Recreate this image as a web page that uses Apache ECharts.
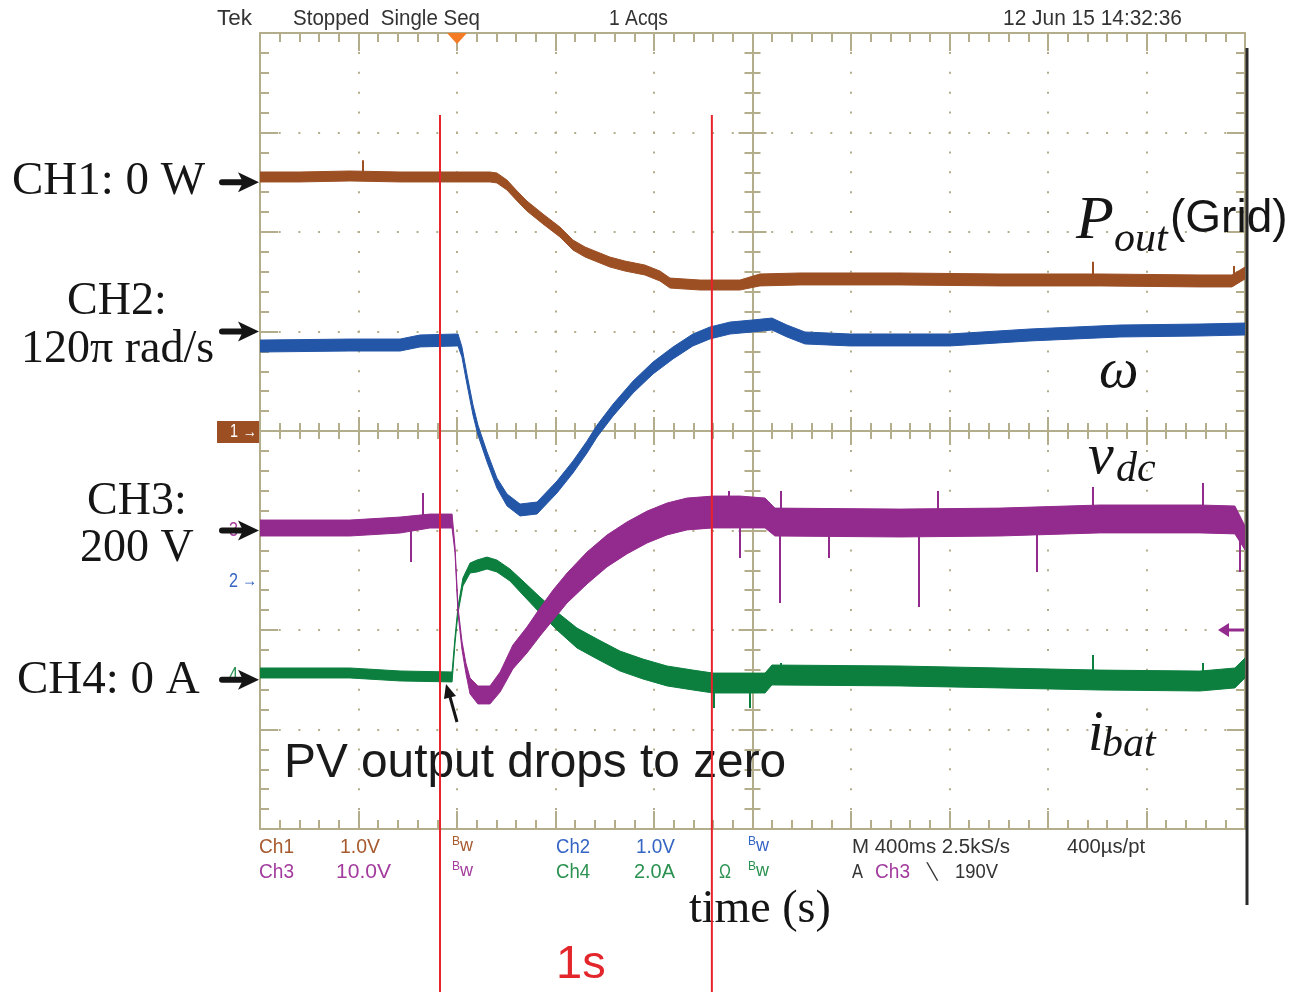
<!DOCTYPE html>
<html>
<head>
<meta charset="utf-8">
<title>PV output drops to zero</title>
<script src="https://cdn.jsdelivr.net/npm/echarts@6/dist/echarts.min.js"></script>
<style>
  html, body { margin: 0; padding: 0; background: #fff; }
  #chart { width: 1291px; height: 992px; }
</style>
</head>
<body>
<div id="chart"></div>
<script>
// scope traces
// [time in s (0 = screen centre, 400 ms/div), level in divisions, noise half-width in divisions]
const pOutTrace = [
  [-2.000, 2.553, 0.05], [-1.838, 2.553, 0.05], [-1.635, 2.563, 0.05], [-1.431, 2.553, 0.05],
  [-1.228, 2.553, 0.05], [-1.066, 2.553, 0.05], [-1.038, 2.543, 0.05], [-0.997, 2.472, 0.05],
  [-0.956, 2.362, 0.05], [-0.916, 2.261, 0.05], [-0.851, 2.131, 0.05], [-0.782, 2.000, 0.05],
  [-0.729, 1.869, 0.05], [-0.680, 1.799, 0.05], [-0.640, 1.759, 0.05], [-0.579, 1.698, 0.05],
  [-0.518, 1.658, 0.05], [-0.437, 1.618, 0.05], [-0.376, 1.558, 0.05], [-0.335, 1.487, 0.05],
  [-0.213, 1.467, 0.05], [-0.051, 1.467, 0.05], [0.030, 1.518, 0.06], [0.193, 1.528, 0.06],
  [0.599, 1.528, 0.06], [1.005, 1.518, 0.06], [1.411, 1.518, 0.06], [1.817, 1.508, 0.06],
  [1.947, 1.508, 0.06], [2.000, 1.588, 0.06]
];
const omegaTrace = [
  [-2.000, 0.854, 0.06], [-1.635, 0.864, 0.06], [-1.431, 0.864, 0.06], [-1.350, 0.905, 0.06],
  [-1.196, 0.915, 0.06], [-1.180, 0.794, 0.05], [-1.159, 0.513, 0.05], [-1.135, 0.211, 0.05],
  [-1.115, 0.010, 0.05], [-1.078, -0.261, 0.05], [-1.038, -0.523, 0.05], [-0.997, -0.693, 0.06],
  [-0.944, -0.794, 0.06], [-0.875, -0.774, 0.06], [-0.794, -0.563, 0.06], [-0.729, -0.362, 0.06],
  [-0.672, -0.161, 0.06], [-0.631, 0.000, 0.06], [-0.566, 0.211, 0.06], [-0.485, 0.442, 0.06],
  [-0.404, 0.633, 0.06], [-0.323, 0.784, 0.06], [-0.242, 0.915, 0.06], [-0.173, 0.985, 0.06],
  [-0.091, 1.035, 0.06], [-0.002, 1.055, 0.06], [0.079, 1.075, 0.06], [0.140, 1.005, 0.06],
  [0.213, 0.935, 0.06], [0.396, 0.915, 0.06], [0.802, 0.915, 0.06], [1.127, 0.965, 0.06],
  [1.492, 1.005, 0.06], [1.817, 1.015, 0.06], [2.000, 1.025, 0.06]
];
const vdcTrace = [
  [-2.000, -0.975, 0.08], [-1.635, -0.975, 0.08], [-1.431, -0.945, 0.08], [-1.310, -0.905, 0.07],
  [-1.220, -0.905, 0.07], [-1.208, -1.196, 0.03], [-1.196, -1.799, 0.03], [-1.180, -2.151, 0.04],
  [-1.164, -2.382, 0.05], [-1.147, -2.563, 0.08], [-1.115, -2.653, 0.09], [-1.066, -2.653, 0.09],
  [-1.025, -2.523, 0.10], [-0.973, -2.271, 0.12], [-0.916, -2.101, 0.13], [-0.863, -1.920, 0.14],
  [-0.810, -1.749, 0.15], [-0.753, -1.578, 0.15], [-0.672, -1.377, 0.16], [-0.591, -1.206, 0.16],
  [-0.510, -1.075, 0.16], [-0.428, -0.965, 0.16], [-0.347, -0.884, 0.16], [-0.266, -0.834, 0.16],
  [-0.160, -0.814, 0.16], [-0.051, -0.814, 0.16], [0.051, -0.824, 0.15], [0.091, -0.915, 0.14],
  [0.599, -0.925, 0.14], [1.005, -0.915, 0.14], [1.411, -0.884, 0.14], [1.817, -0.884, 0.14],
  [1.959, -0.894, 0.14], [2.000, -1.075, 0.12]
];
const ibatTrace = [
  [-2.000, -2.432, 0.05], [-1.635, -2.432, 0.05], [-1.431, -2.462, 0.05], [-1.220, -2.472, 0.05],
  [-1.208, -2.101, 0.03], [-1.196, -1.799, 0.03], [-1.176, -1.518, 0.04], [-1.147, -1.377, 0.05],
  [-1.119, -1.357, 0.06], [-1.078, -1.327, 0.06], [-1.038, -1.357, 0.06], [-0.985, -1.447, 0.06],
  [-0.932, -1.578, 0.07], [-0.863, -1.749, 0.08], [-0.794, -1.910, 0.09], [-0.713, -2.080, 0.10],
  [-0.631, -2.191, 0.10], [-0.538, -2.312, 0.10], [-0.445, -2.392, 0.10], [-0.347, -2.462, 0.10],
  [-0.242, -2.503, 0.10], [-0.160, -2.533, 0.10], [0.051, -2.533, 0.10], [0.079, -2.452, 0.10],
  [0.599, -2.462, 0.10], [1.005, -2.482, 0.10], [1.411, -2.503, 0.10], [1.817, -2.513, 0.10],
  [1.959, -2.482, 0.10], [2.000, -2.382, 0.10]
];
// isolated glitches: [time, from level, to level]
const pOutSpikes = [[-1.582, 2.56, 2.72], [1.383, 1.52, 1.70], [1.955, 1.55, 1.658]];
const vdcSpikes = [
  [-1.387, -0.95, -1.317], [-1.338, -0.90, -0.623], [-0.051, -0.85, -1.276], [0.112, -0.95, -1.729],
  [0.676, -0.95, -1.769], [1.155, -0.95, -1.417], [1.980, -1.00, -1.417], [0.311, -1.00, -1.276],
  [-0.095, -0.75, -0.603], [0.116, -0.80, -0.603], [0.753, -0.80, -0.603], [1.383, -0.78, -0.563],
  [1.830, -0.78, -0.523]
];
const ibatSpikes = [
  [1.383, -2.45, -2.251], [1.830, -2.45, -2.332], [0.116, -2.40, -2.332],
  [-0.010, -2.60, -2.784], [-0.156, -2.60, -2.784]
];

// channel ground markers (div) and other screen positions
const chRefLevels = [2.5, 1.0, -1.0, -2.5];
const trigTime = -1.2;
const redLineTimes = [-1.269, -0.165];

const cBrown = '#9d4f24';
const cBlue = '#2456a8';
const cPurple = '#932a8d';
const cGreen = '#0c7f3f';
const gridColor = '#b3ad8c';
const tickLine = { color: gridColor, width: 2 };

const chart = echarts.init(document.getElementById('chart'));

function xAxisDef(position, onZero, inside, len, minorLen, split) {
  return {
    type: 'value', min: -2, max: 2, interval: 0.4, position: position,
    axisLine: onZero ? { onZero: true, onZeroAxisIndex: 0, lineStyle: tickLine } : { onZero: false, lineStyle: tickLine },
    axisTick: { show: true, inside: inside, length: len, lineStyle: tickLine },
    minorTick: { show: true, splitNumber: 5, length: minorLen, lineStyle: tickLine },
    axisLabel: { show: false },
    splitLine: { show: split, lineStyle: { color: gridColor, width: 2, type: [2, 17.9], dashOffset: 1 } }
  };
}
function yAxisDef(position, onZero, inside, len, minorLen, split) {
  return {
    type: 'value', min: -4, max: 4, interval: 1, position: position,
    axisLine: onZero ? { onZero: true, onZeroAxisIndex: 0, lineStyle: tickLine } : { onZero: false, lineStyle: tickLine },
    axisTick: { show: true, inside: inside, length: len, lineStyle: tickLine },
    minorTick: { show: true, splitNumber: 5, length: minorLen, lineStyle: tickLine },
    axisLabel: { show: false },
    splitLine: { show: split, lineStyle: { color: gridColor, width: 2, type: [2, 17.7], dashOffset: 1 } }
  };
}

// a noisy trace drawn as one filled band between level-noise and level+noise
function bandSeries(id, trace, color) {
  return {
    type: 'custom', name: id, xAxisIndex: 0, yAxisIndex: 0,
    silent: true, animation: false, z: 5, clip: true,
    data: trace,
    renderItem: function (params, api) {
      if (params.dataIndex !== 0) return;
      const upper = trace.map(p => api.coord([p[0], p[1] + p[2]]));
      const lower = trace.map(p => api.coord([p[0], p[1] - p[2]])).reverse();
      return {
        type: 'polygon',
        shape: { points: upper.concat(lower) },
        style: { fill: color, stroke: color, lineWidth: 1 }
      };
    }
  };
}
function spikeSeries(spikes, color) {
  return {
    type: 'lines', coordinateSystem: 'cartesian2d', xAxisIndex: 0, yAxisIndex: 0,
    polyline: false, silent: true, animation: false, z: 5,
    lineStyle: { color: color, width: 2, opacity: 1 },
    data: spikes.map(s => ({ coords: [[s[0], s[1]], [s[0], s[2]]] }))
  };
}

chart.setOption({
  animation: false,
  backgroundColor: '#ffffff',
  grid: { left: 260, top: 33, width: 985, height: 796, containLabel: false },
  xAxis: [
    xAxisDef('bottom', false, true, 18, 9, true),
    xAxisDef('top', false, true, 18, 9, false),
    xAxisDef('bottom', true, true, 14, 8, false),
    xAxisDef('bottom', true, false, 14, 8, false)
  ],
  yAxis: [
    yAxisDef('left', false, true, 18, 9, true),
    yAxisDef('right', false, true, 18, 9, false),
    yAxisDef('left', true, true, 14, 8, false),
    yAxisDef('left', true, false, 14, 8, false)
  ],
  series: [
    bandSeries('Pout', pOutTrace, cBrown),
    bandSeries('omega', omegaTrace, cBlue),
    bandSeries('ibat', ibatTrace, cGreen),
    bandSeries('vdc', vdcTrace, cPurple),
    spikeSeries(pOutSpikes, cBrown),
    spikeSeries(vdcSpikes, cPurple),
    spikeSeries(ibatSpikes, cGreen)
  ]
});

// ---- screen annotations
const px = (t, v) => chart.convertToPixel({ xAxisIndex: 0, yAxisIndex: 0 }, [t, v]);
const measureCtx = document.createElement('canvas').getContext('2d');
const sansFamily = '"Liberation Sans", Arial, sans-serif';
const serifFamily = '"Liberation Serif", "Times New Roman", serif';

// scope status text, squeezed to the width it has on screen
function scopeText(text, x, y, w, size, color) {
  measureCtx.font = size + 'px ' + sansFamily;
  const natural = measureCtx.measureText(text).width;
  return {
    type: 'text', x: x, y: y, scaleX: w / natural, silent: true, z: 100,
    style: { text: text, fontSize: size, fontFamily: sansFamily, fill: color, textAlign: 'left', textVerticalAlign: 'middle' }
  };
}
function bwText(x, y, color) {
  return {
    type: 'text', x: x, y: y, silent: true, z: 100,
    style: {
      text: '{b|B}{w|w}', textAlign: 'left', textVerticalAlign: 'middle',
      rich: {
        b: { fontSize: 12, fontFamily: 'Liberation Sans', fill: color, verticalAlign: 'top', lineHeight: 20 },
        w: { fontSize: 18, fontFamily: 'Liberation Sans', fill: color, lineHeight: 20 }
      }
    }
  };
}
function label(text, x, y, size, opts) {
  opts = opts || {};
  return {
    type: 'text', x: x, y: y, silent: true, z: 100,
    style: {
      text: text, fontSize: size, fontFamily: opts.family || serifFamily,
      fontStyle: opts.italic ? 'italic' : 'normal', fill: opts.color || '#151515',
      textAlign: 'left', textVerticalAlign: 'middle'
    }
  };
}
function refArrow(y) {
  return [
    { type: 'line', silent: true, z: 100, shape: { x1: 222, y1: y, x2: 246, y2: y }, style: { stroke: '#151515', lineWidth: 6, lineCap: 'round' } },
    { type: 'polygon', silent: true, z: 100, shape: { points: [[238, y - 10], [259, y], [238, y + 10], [243, y]] }, style: { fill: '#151515' } }
  ];
}

const cTxtBrown = '#a65a2e';
const cTxtPurple = '#a33c9e';
const cTxtBlue = '#3565c4';
const cTxtGreen = '#2a9150';
const cTxtDark = '#333333';

const els = [
  // top status line
  scopeText('Tek', 217, 19, 35, 22, cTxtDark),
  scopeText('Stopped  Single Seq', 293, 19, 187, 22, cTxtDark),
  scopeText('1 Acqs', 609, 19, 59, 22, cTxtDark),
  scopeText('12 Jun 15 14:32:36', 1003, 19, 179, 22, cTxtDark),
  // bottom readouts
  scopeText('Ch1', 259, 847, 35, 20, cTxtBrown),
  scopeText('1.0V', 340, 847, 40, 20, cTxtBrown),
  bwText(452, 846, cTxtBrown),
  scopeText('Ch2', 556, 847, 34, 20, cTxtBlue),
  scopeText('1.0V', 636, 847, 39, 20, cTxtBlue),
  bwText(748, 846, cTxtBlue),
  scopeText('M 400ms 2.5kS/s', 852, 847, 158, 20, cTxtDark),
  scopeText('400\u00b5s/pt', 1067, 847, 78, 20, cTxtDark),
  scopeText('Ch3', 259, 872, 35, 20, cTxtPurple),
  scopeText('10.0V', 336, 872, 55, 20, cTxtPurple),
  bwText(452, 871, cTxtPurple),
  scopeText('Ch4', 556, 872, 34, 20, cTxtGreen),
  scopeText('2.0A', 634, 872, 41, 20, cTxtGreen),
  scopeText('\u03a9', 719, 872, 12, 20, cTxtGreen),
  bwText(748, 871, cTxtGreen),
  scopeText('A', 852, 872, 11, 20, cTxtDark),
  scopeText('Ch3', 875, 872, 35, 20, cTxtPurple),
  scopeText('\u2572', 927, 873, 11, 16, cTxtDark),
  scopeText('190V', 955, 872, 43, 20, cTxtDark),
  // channel markers on the left edge
  { type: 'rect', silent: true, z: 90, shape: { x: 217, y: 421, width: 42, height: 22 }, style: { fill: cBrown } },
  scopeText('1', 230, 432, 8, 19, '#ffffff'),
  scopeText('\u2192', 243, 432, 14, 17, '#ffffff'),
  scopeText('2', 229, 581, 9, 20, cTxtBlue),
  scopeText('\u2192', 242, 581, 15, 18, cTxtBlue),
  scopeText('3', 229, 530, 9, 20, cTxtPurple),
  scopeText('4', 229, 675, 9, 20, cTxtGreen),
  // trigger level marker on the right edge
  { type: 'polygon', silent: true, z: 100, shape: { points: [[1218, 630], [1229, 623], [1229, 637]] }, style: { fill: cPurple } },
  { type: 'line', silent: true, z: 100, shape: { x1: 1227, y1: 630, x2: 1244, y2: 630 }, style: { stroke: cPurple, lineWidth: 3 } },
  // right frame bar
  { type: 'line', silent: true, z: 100, shape: { x1: 1247, y1: 48, x2: 1247, y2: 905 }, style: { stroke: '#2a2a2a', lineWidth: 3 } },
  // channel names
  label('CH1: 0 W', 12, 182, 47),
  label('CH2:', 67, 302, 46),
  label('120\u03c0 rad/s', 21, 350, 46),
  label('CH3:', 87, 502, 46),
  label('200 V', 80, 549, 46),
  label('CH4: 0 A', 17, 681, 47),
  // signal names
  label('P', 1076, 222, 62, { italic: true }),
  label('out', 1114, 240, 42, { italic: true }),
  label('(Grid)', 1170, 219, 46, { family: sansFamily }),
  label('\u03c9', 1099, 372, 56, { italic: true }),
  label('v', 1088, 458, 58, { italic: true }),
  label('dc', 1116, 470, 42, { italic: true }),
  label('i', 1088, 735, 56, { italic: true }),
  label('bat', 1102, 745, 42, { italic: true }),
  label('PV output drops to zero', 284, 764, 47.8, { family: sansFamily, color: '#1a1a1a' }),
  { type: 'line', silent: true, z: 100, shape: { x1: 457, y1: 722, x2: 450, y2: 697 }, style: { stroke: '#151515', lineWidth: 3 } },
  { type: 'polygon', silent: true, z: 100, shape: { points: [[446, 684], [456, 696], [444, 699]] }, style: { fill: '#151515' } },
  label('time (s)', 689, 910, 46),
  label('1s', 556, 965, 47, { family: sansFamily, color: '#e3262b' })
];

chRefLevels.forEach(level => {
  els.push.apply(els, refArrow(px(0, level)[1]));
});

const trig = px(trigTime, 4);
els.push({ type: 'polygon', silent: true, z: 100, shape: { points: [[trig[0] - 10, trig[1]], [trig[0] + 10, trig[1]], [trig[0], trig[1] + 11]] }, style: { fill: '#f47a24' } });

redLineTimes.forEach(t => {
  const x = px(t, 0)[0];
  els.push({ type: 'line', silent: true, z: 120, shape: { x1: x, y1: 115, x2: x, y2: 992 }, style: { stroke: '#e8232b', lineWidth: 2 } });
});

chart.setOption({ graphic: { elements: els } });
</script>
</body>
</html>
